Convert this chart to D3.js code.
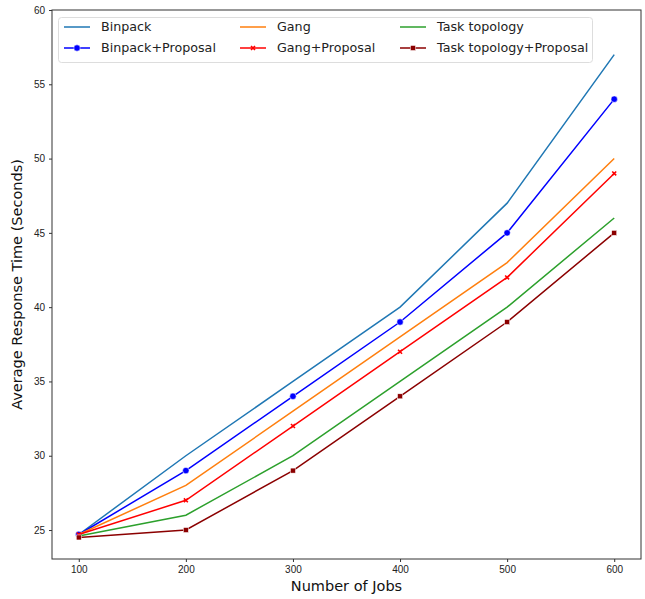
<!DOCTYPE html>
<html>
<head>
<meta charset="utf-8">
<script src="https://cdn.jsdelivr.net/npm/d3@7"></script>
<style>
  body { margin: 0; background: #fff; }
  svg { font-family: "DejaVu Sans", sans-serif; }
</style>
</head>
<body>
<div class="container"></div>
<script>
const jobs = [100, 200, 300, 400, 500, 600];
const seriesNames = ["Binpack", "Binpack+Proposal", "Gang", "Gang+Proposal", "Task topology", "Task topology+Proposal"];
const binpack = [24.7, 30, 35, 40, 47, 57];
const binpackProposal = [24.7, 29, 34, 39, 45, 54];
const gang = [24.7, 28, 33, 38, 43, 50];
const gangProposal = [24.7, 27, 32, 37, 42, 49];
const taskTopology = [24.6, 26, 30, 35, 40, 46];
const taskTopologyProposal = [24.5, 25, 29, 34, 39, 45];
const yTicks = [25, 30, 35, 40, 45, 50, 55, 60];

const series = [
    {name: seriesNames[0], values: binpack, color: "#1f77b4", marker: null},
    {name: seriesNames[1], values: binpackProposal, color: "#0000ff", marker: "circle"},
    {name: seriesNames[2], values: gang, color: "#ff7f0e", marker: null},
    {name: seriesNames[3], values: gangProposal, color: "#ff0000", marker: "x"},
    {name: seriesNames[4], values: taskTopology, color: "#2ca02c", marker: null},
    {name: seriesNames[5], values: taskTopologyProposal, color: "#8b0000", marker: "square"}
];

const W = 645, H = 599;
const margin = {top: 10, right: 4, bottom: 40, left: 52};

const svg = d3.select('.container')
    .append('svg')
    .attr('width', W)
    .attr('height', H);

const xScale = d3.scaleLinear()
    .domain([75, 625])
    .range([margin.left, W - margin.right]);

const yScale = d3.scaleLinear()
    .domain([23.05, 60])
    .range([H - margin.bottom, margin.top]);

const xAxis = d3.axisBottom(xScale).tickValues(jobs).tickSize(3).tickPadding(4);
const yAxis = d3.axisLeft(yScale).tickValues(yTicks).tickSize(3).tickPadding(4);

const gx = svg.append('g')
    .attr('transform', `translate(0,${H - margin.bottom})`)
    .call(xAxis);
const gy = svg.append('g')
    .attr('transform', `translate(${margin.left},0)`)
    .call(yAxis);

[gx, gy].forEach(g => {
    g.select('.domain').remove();
    g.selectAll('.tick line').attr('stroke', '#333');
    g.selectAll('.tick text').attr('fill', '#222').style('font-size', '10px');
});

// frame
svg.append('rect')
    .attr('x', margin.left)
    .attr('y', margin.top)
    .attr('width', W - margin.right - margin.left)
    .attr('height', H - margin.bottom - margin.top)
    .attr('fill', 'none')
    .attr('stroke', '#333')
    .attr('stroke-width', 1);

const line = d3.line()
    .x((d, i) => xScale(jobs[i]))
    .y(d => yScale(d));

const drawMarker = (g, type, color, x, y) => {
    if (type === 'circle') {
        g.append('circle').attr('cx', x).attr('cy', y).attr('r', 3.2)
            .attr('fill', color).attr('stroke', '#fff').attr('stroke-width', 0.5);
    } else if (type === 'square') {
        g.append('rect').attr('x', x - 2.5).attr('y', y - 2.5).attr('width', 5).attr('height', 5)
            .attr('fill', color).attr('stroke', '#fff').attr('stroke-width', 0.5);
    } else if (type === 'x') {
        g.append('path')
            .attr('d', d3.symbol(d3.symbolX, 12)())
            .attr('transform', `translate(${x},${y})`)
            .attr('fill', 'none').attr('stroke', color).attr('stroke-width', 1.6);
    }
};

series.forEach(s => {
    const g = svg.append('g');
    g.append('path')
        .datum(s.values)
        .attr('d', line)
        .attr('fill', 'none')
        .attr('stroke', s.color)
        .attr('stroke-width', 1.5);
    if (s.marker) {
        s.values.forEach((v, i) => drawMarker(g, s.marker, s.color, xScale(jobs[i]), yScale(v)));
    }
});

// legend
const legend = svg.append('g');
legend.append('rect')
    .attr('x', 58.5).attr('y', 17.5)
    .attr('width', 534).attr('height', 45)
    .attr('rx', 3)
    .attr('fill', '#fff').attr('fill-opacity', 0.8)
    .attr('stroke', '#ddd');

const colX = [64, 240, 400];
const rowY = [27, 48];
series.forEach((s, i) => {
    const col = Math.floor(i / 2), row = i % 2;
    const x0 = colX[col], y0 = rowY[row];
    legend.append('line')
        .attr('x1', x0).attr('x2', x0 + 26)
        .attr('y1', y0).attr('y2', y0)
        .attr('stroke', s.color).attr('stroke-width', 1.5);
    if (s.marker) drawMarker(legend, s.marker, s.color, x0 + 13, y0);
    legend.append('text')
        .attr('x', x0 + 37).attr('y', y0)
        .attr('dy', '0.35em')
        .style('font-size', '12.7px')
        .attr('fill', '#222')
        .text(s.name);
});

svg.append('text')
    .attr('x', (margin.left + W - margin.right) / 2)
    .attr('y', 591)
    .attr('text-anchor', 'middle')
    .style('font-size', '14.5px')
    .attr('fill', '#111')
    .text('Number of Jobs');

svg.append('text')
    .attr('transform', `translate(22,${(margin.top + H - margin.bottom) / 2}) rotate(-90)`)
    .attr('text-anchor', 'middle')
    .style('font-size', '14.5px')
    .attr('fill', '#111')
    .text('Average Response Time (Seconds)');
</script>
</body>
</html>
